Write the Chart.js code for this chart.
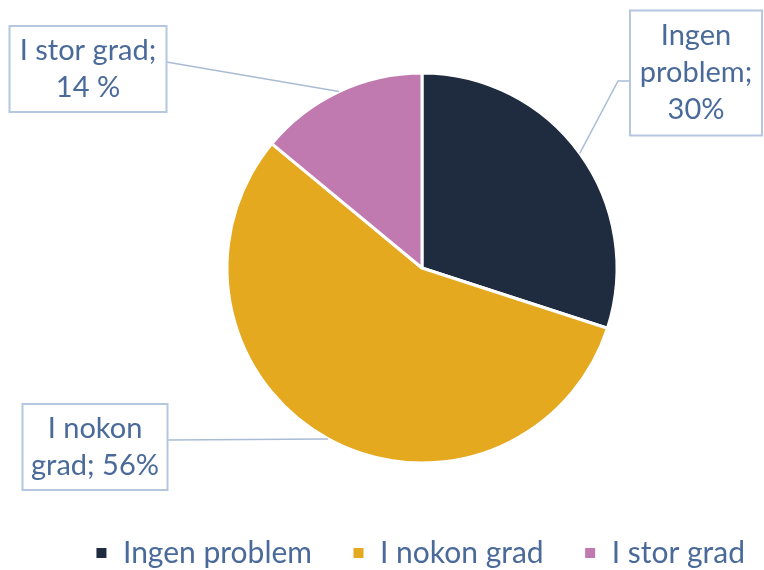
<!DOCTYPE html>
<html>
<head>
<meta charset="utf-8">
<script src="https://cdn.jsdelivr.net/npm/chart.js@4/dist/chart.umd.min.js"></script>
<style>
  html, body { margin: 0; padding: 0; background: #fff; }
  #wrap { width: 764px; height: 570px; }
</style>
</head>
<body>
<div id="wrap"><canvas id="kake"></canvas></div>
<script>
// data
var kategoriar = ['Ingen problem', 'I nokon grad', 'I stor grad'];
var prosent = [30, 56, 14];
var fargar = ['#1F2B3E', '#E5A920', '#C07AB0'];
var etikettLinjer = [
    ['Ingen', 'problem;', '30%'],
    ['I nokon', 'grad; 56%'],
    ['I stor grad;', '14 %']
];

var tekstFarge = '#4A6A9A';
var linjeFarge = '#A9BCD6';

// plasseringa av etikettboksane (midtpunkt, breidd, hogd) og kvar leielinja går ut
var boksar = [
    { cx: 696, cy: 73, w: 132, h: 125, side: 'left', knekk: 12 },
    { cx: 95, cy: 447, w: 145, h: 86, side: 'right', knekk: 0 },
    { cx: 88, cy: 69, w: 157, h: 86, side: 'right', knekk: 0 }
];

// tom boks til venstre, så kaka blir flytta mot høgre utan at legenda blir smalare
var venstreMarg = {
    id: 'venstreMarg',
    beforeInit: function (chart) {
        Chart.layouts.addBox(chart, {
            position: 'left',
            fullSize: false,
            weight: 0,
            options: {},
            isHorizontal: function () { return false; },
            update: function (maxWidth, maxHeight) {
                this.width = 80;
                this.height = maxHeight;
            },
            draw: function () {}
        });
    }
};

var etikettPlugin = {
    id: 'etikettar',
    afterDatasetsDraw: function (chart) {
        var ctx = chart.ctx;
        var meta = chart.getDatasetMeta(0);
        ctx.save();
        meta.data.forEach(function (arc, i) {
            var b = boksar[i];
            var mid = (arc.startAngle + arc.endAngle) / 2;
            var ax = arc.x + Math.cos(mid) * arc.outerRadius;
            var ay = arc.y + Math.sin(mid) * arc.outerRadius;
            var left = b.cx - b.w / 2, top = b.cy - b.h / 2;

            // leielinje
            var linjer = etikettLinjer[i];
            var lh = 37;
            var sx = b.side === 'left' ? left : left + b.w;
            var sy = i === 0 ? b.cy + 8 : b.cy - 7;
            ctx.strokeStyle = linjeFarge;
            ctx.lineWidth = 1.5;
            ctx.beginPath();
            ctx.moveTo(sx, sy);
            if (b.knekk) {
                ctx.lineTo(sx - b.knekk, sy);
            }
            ctx.lineTo(ax, ay);
            ctx.stroke();

            // boks
            ctx.fillStyle = '#fff';
            ctx.fillRect(left, top, b.w, b.h);
            ctx.strokeStyle = '#B4C6E0';
            ctx.lineWidth = 2;
            ctx.strokeRect(left, top, b.w, b.h);

            // tekst
            ctx.fillStyle = tekstFarge;
            ctx.font = '29px Lato';
            ctx.textAlign = 'center';
            ctx.textBaseline = 'middle';
            var y0 = b.cy - (linjer.length - 1) * lh / 2;
            linjer.forEach(function (t, k) {
                ctx.fillText(t, b.cx, y0 + k * lh);
            });
        });
        ctx.restore();
    }
};

var ctx = document.getElementById('kake').getContext('2d');
var chart = new Chart(ctx, {
    type: 'pie',
    data: {
        labels: kategoriar,
        datasets: [{
            data: prosent,
            backgroundColor: fargar,
            borderColor: '#fff',
            borderWidth: 3,
            radius: 195
        }]
    },
    options: {
        responsive: true,
        maintainAspectRatio: false,
        animation: false,
        layout: { padding: { left: 0, top: 38, right: -21, bottom: -8 } },
        plugins: {
            tooltip: { enabled: false },
            legend: {
                position: 'bottom',
                align: 'end',
                labels: {
                    boxWidth: 13,
                    boxHeight: 13,
                    padding: 40,
                    color: tekstFarge,
                    font: { family: 'Lato', size: 30 }
                }
            }
        }
    },
    plugins: [venstreMarg, etikettPlugin]
});
</script>
</body>
</html>
